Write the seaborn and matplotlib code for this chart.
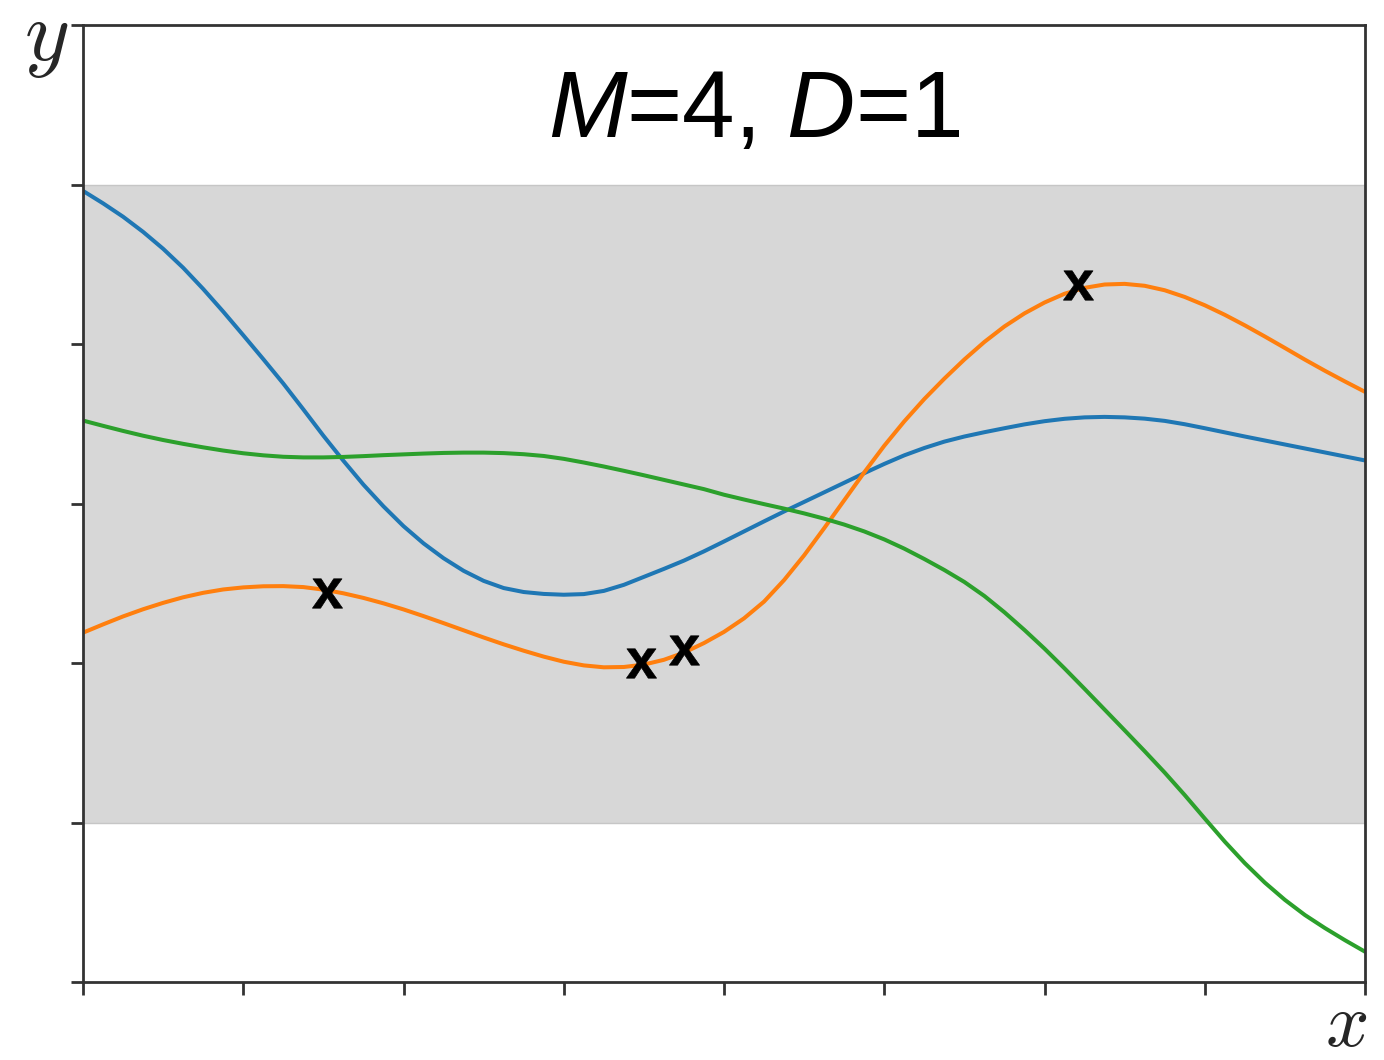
import numpy as np
import pandas as pd
import matplotlib
matplotlib.use("Agg")
import matplotlib.pyplot as plt
import seaborn as sns

# Sample locations shared by all three function draws
x_grid = [i * 0.125 for i in range(65)]

f_blue = [4.960, 4.882, 4.798, 4.703, 4.597, 4.478, 4.345, 4.203, 4.055,
          3.905, 3.752, 3.590, 3.425, 3.268, 3.118, 2.982, 2.858, 2.750,
          2.657, 2.578, 2.515, 2.470, 2.445, 2.433, 2.428, 2.432, 2.452,
          2.490, 2.540, 2.590, 2.642, 2.700, 2.762, 2.825, 2.888, 2.950,
          3.010, 3.070, 3.130, 3.190, 3.248, 3.302, 3.348, 3.388, 3.420,
          3.447, 3.472, 3.496, 3.516, 3.531, 3.540, 3.543, 3.540, 3.532,
          3.518, 3.497, 3.472, 3.446, 3.420, 3.395, 3.370, 3.345, 3.320,
          3.295, 3.270]

f_orange = [2.190, 2.242, 2.292, 2.337, 2.377, 2.412, 2.440, 2.461, 2.474,
            2.481, 2.482, 2.476, 2.460, 2.437, 2.408, 2.374, 2.336, 2.294,
            2.250, 2.205, 2.160, 2.117, 2.077, 2.040, 2.008, 1.985, 1.973,
            1.975, 1.990, 2.020, 2.065, 2.125, 2.195, 2.280, 2.385, 2.520,
            2.675, 2.845, 3.020, 3.195, 3.362, 3.515, 3.655, 3.783, 3.903,
            4.013, 4.110, 4.192, 4.260, 4.315, 4.352, 4.373, 4.377, 4.365,
            4.337, 4.295, 4.243, 4.183, 4.117, 4.047, 3.975, 3.902, 3.832,
            3.765, 3.700]

f_green = [3.520, 3.487, 3.455, 3.425, 3.398, 3.374, 3.352, 3.332, 3.315,
           3.302, 3.293, 3.289, 3.289, 3.292, 3.297, 3.303, 3.308, 3.313,
           3.317, 3.319, 3.319, 3.316, 3.309, 3.298, 3.280, 3.257, 3.232,
           3.205, 3.177, 3.148, 3.119, 3.090, 3.055, 3.025, 2.996, 2.968,
           2.938, 2.905, 2.868, 2.825, 2.775, 2.717, 2.652, 2.583, 2.508,
           2.420, 2.318, 2.207, 2.090, 1.966, 1.838, 1.708, 1.578, 1.447,
           1.313, 1.172, 1.025, 0.880, 0.745, 0.623, 0.515, 0.420, 0.338,
           0.262, 0.190]

# Observed data points (M=4)
obs_x = [1.52, 3.48, 3.75, 6.21]
obs_y = [2.44, 2.00, 2.08, 4.37]

# Output range band and axis layout
band_low, band_high = 1.0, 5.0
x_ticks = list(range(0, 9))
y_ticks = list(range(0, 7))
title_text = r"$M$=4, $D$=1"

sns.set_style("ticks")
plt.rcParams["font.family"] = ["Liberation Sans", "DejaVu Sans"]
plt.rcParams["mathtext.fontset"] = "custom"
plt.rcParams["mathtext.rm"] = "Liberation Sans"
plt.rcParams["mathtext.it"] = "Liberation Sans:italic"
plt.rcParams["mathtext.bf"] = "Liberation Sans:bold"

W, H = 1384, 1060
fig = plt.figure(figsize=(W / 100, H / 100), dpi=100)
left, right, bottom, top = 83, 1365, 982, 25
ax = fig.add_axes([left / W, 1 - bottom / H, (right - left) / W, (bottom - top) / H])

n = len(x_grid)
df = pd.DataFrame({
    "x": x_grid * 3,
    "f": f_blue + f_orange + f_green,
    "draw": ["blue"] * n + ["orange"] * n + ["green"] * n,
})
palette = {"blue": "#1f77b4", "orange": "#ff7f0e", "green": "#2ca02c"}

ax.axhspan(band_low, band_high, facecolor="#d7d7d7", edgecolor="#c6c6c6",
           linewidth=1.0, zorder=0)

sns.lineplot(data=df, x="x", y="f", hue="draw", palette=palette,
             linewidth=2.9, legend=False, ax=ax, zorder=2)

sns.scatterplot(x=obs_x, y=obs_y, marker=r"$\mathbf{x}$", s=470,
                color="black", edgecolor="black", linewidth=0.5,
                ax=ax, zorder=3)

ax.set_xlim(0, 8)
ax.set_ylim(0, 6)
ax.set_xticks(x_ticks)
ax.set_yticks(y_ticks)
ax.set_xticklabels([])
ax.set_yticklabels([])
ax.set_xlabel("")
ax.set_ylabel("")
ax.tick_params(axis="both", direction="out", length=9, width=2.0,
               color="#333333")
for side in ["left", "bottom", "top", "right"]:
    ax.spines[side].set_visible(True)
    ax.spines[side].set_linewidth(2.0)
    ax.spines[side].set_color("#333333")

ax.text(4.19, 5.30, title_text, ha="center", va="baseline", fontsize=68,
        color="black")

fig.text(46 / W, 1 - 40 / H, r"$y$", ha="center", va="center", fontsize=62,
         math_fontfamily="cm")
fig.text(1346 / W, 1 - 1046 / H, r"$x$", ha="center", va="baseline",
         fontsize=55, math_fontfamily="cm")

fig.savefig("out.png", dpi=100)
